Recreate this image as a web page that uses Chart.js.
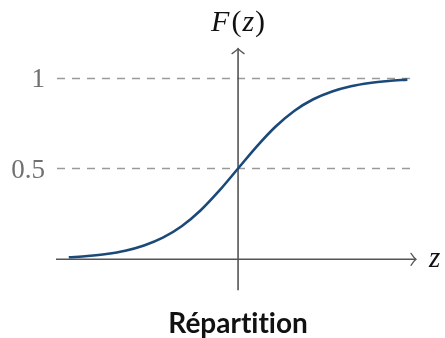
<!DOCTYPE html>
<html>
<head>
<meta charset="utf-8">
<title>Répartition</title>
<script src="https://cdn.jsdelivr.net/npm/chart.js@4/dist/chart.umd.min.js"></script>
<style>
  html, body { margin: 0; padding: 0; background: #ffffff; }
  canvas { display: block; }
</style>
</head>
<body>
<canvas id="chart" width="445" height="338"></canvas>
<script>
// Cumulative distribution F(z), sampled every 0.5
const zValues = [-4.5, -4, -3.5, -3, -2.5, -2, -1.5, -1, -0.5, 0, 0.5, 1, 1.5, 2, 2.5, 3, 3.5, 4, 4.5];
const cdfValues = [0.011, 0.018, 0.029, 0.047, 0.076, 0.119, 0.182, 0.269, 0.378, 0.5, 0.622, 0.731, 0.818, 0.881, 0.924, 0.953, 0.971, 0.982, 0.989];

// Reference levels marked with dashed guides
const guideLevels = [0.5, 1];
const guideLabels = ['0.5', '1'];

const chartTitle = 'Répartition';
const yAxisName = 'F(z)';
const xAxisName = 'z';

const points = zValues.map((z, i) => ({ x: z, y: cdfValues[i] }));

// Draws the arrowed axes, dashed guides, their labels and the title
const axesPlugin = {
  id: 'mathAxes',
  beforeDatasetsDraw(chart) {
    const { ctx, chartArea, scales } = chart;
    const xs = scales.x, ys = scales.y;
    const x0 = xs.getPixelForValue(0);
    const y0 = ys.getPixelForValue(0);

    ctx.save();
    // dashed guides
    ctx.strokeStyle = '#9a9a9a';
    ctx.lineWidth = 1.4;
    ctx.setLineDash([8, 7]);
    guideLevels.forEach((lv) => {
      const py = Math.round(ys.getPixelForValue(lv)) + 0.5;
      ctx.beginPath();
      ctx.moveTo(chartArea.left + 1, py);
      ctx.lineTo(chartArea.right - 1, py);
      ctx.stroke();
    });
    ctx.setLineDash([]);

    // guide labels
    ctx.fillStyle = '#707070';
    ctx.font = '27px "Liberation Serif", "DejaVu Serif", serif';
    ctx.textAlign = 'right';
    ctx.textBaseline = 'alphabetic';
    guideLevels.forEach((lv, i) => {
      const py = ys.getPixelForValue(lv);
      ctx.fillText(guideLabels[i], 45, py + 9.5);
    });

    // axes
    ctx.strokeStyle = '#555555';
    ctx.lineWidth = 1.6;
    ctx.beginPath();
    ctx.moveTo(chartArea.left, y0);
    ctx.lineTo(chartArea.right, y0);
    ctx.moveTo(x0, chartArea.bottom);
    ctx.lineTo(x0, chartArea.top);
    ctx.stroke();

    // arrow heads
    ctx.lineWidth = 1.3;
    ctx.lineCap = 'round';
    const xr = chartArea.right, yt = chartArea.top;
    ctx.beginPath();
    ctx.moveTo(xr - 5, y0 - 6);
    ctx.quadraticCurveTo(xr - 2, y0 - 1.5, xr, y0);
    ctx.quadraticCurveTo(xr - 2, y0 + 1.5, xr - 5, y0 + 6);
    ctx.moveTo(x0 - 6, yt + 5);
    ctx.quadraticCurveTo(x0 - 1.5, yt + 2, x0, yt);
    ctx.quadraticCurveTo(x0 + 1.5, yt + 2, x0 + 6, yt + 5);
    ctx.stroke();

    // axis names
    ctx.fillStyle = '#111111';
    ctx.textAlign = 'left';
    const italic = 'italic 30px "Liberation Serif", "DejaVu Serif", serif';
    const upright = '30px "Liberation Serif", "DejaVu Serif", serif';
    const parts = [['F', italic, 2], ['(', upright, 1], ['z', italic, 1], [')', upright, 0]];
    let total = 0;
    parts.forEach(([t, f, gap]) => { ctx.font = f; total += ctx.measureText(t).width + gap; });
    let cx = x0 - total / 2;
    parts.forEach(([t, f, gap]) => {
      ctx.font = f;
      ctx.fillText(t, cx, 31);
      cx += ctx.measureText(t).width + gap;
    });
    ctx.font = 'italic 29px "Liberation Serif", "DejaVu Serif", serif';
    ctx.fillText(xAxisName, 429, y0 + 7.5);

    // title (kept free of the "ti" ligature)
    ctx.font = 'bold 28px Lato, "Open Sans", sans-serif';
    ctx.textAlign = 'center';
    ctx.fillStyle = '#111111';
    ctx.fillText(chartTitle.replace(/ti/g, 't\u200Ci'), x0, 333);
    ctx.restore();
  }
};

new Chart(document.getElementById('chart'), {
  type: 'line',
  data: {
    datasets: [{
      data: points,
      borderColor: '#1b4a7a',
      borderWidth: 2.6,
      pointRadius: 0,
      fill: false,
      cubicInterpolationMode: 'monotone'
    }]
  },
  options: {
    responsive: false,
    animation: false,
    layout: { padding: { left: 56, right: 29, top: 48.6, bottom: 47.8 } },
    plugins: { legend: { display: false }, tooltip: { enabled: false }, title: { display: false } },
    scales: {
      x: { type: 'linear', min: -4.84, max: 4.73, display: false },
      y: { type: 'linear', min: -0.17, max: 1.16, display: false }
    }
  },
  plugins: [axesPlugin]
});
</script>
</body>
</html>
